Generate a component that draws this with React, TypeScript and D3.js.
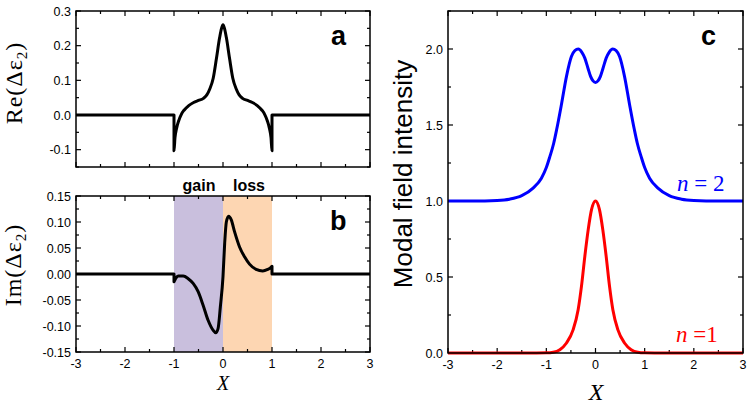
import React from "react";
import * as d3 from "d3";

// ---------- tick definitions ----------
const xMajor = [-3, -2, -1, 0, 1, 2, 3];
const xMinor = [-2.5, -1.5, -0.5, 0.5, 1.5, 2.5];
const xLabels = ["-3", "-2", "-1", "0", "1", "2", "3"];

const aYMajor = [-0.1, 0, 0.1, 0.2, 0.3];
const aYLabels = ["-0.1", "0.0", "0.1", "0.2", "0.3"];
const aYMinor = [-0.15, -0.05, 0.05, 0.15, 0.25];

const bYMajor = [-0.15, -0.1, -0.05, 0, 0.05, 0.1, 0.15];
const bYLabels = ["-0.15", "-0.10", "-0.05", "0.00", "0.05", "0.10", "0.15"];
const bYMinor = [-0.125, -0.075, -0.025, 0.025, 0.075, 0.125];

const cYMajor = [0, 0.5, 1, 1.5, 2];
const cYLabels = ["0.0", "0.5", "1.0", "1.5", "2.0"];
const cYMinor = [0.25, 0.75, 1.25, 1.75, 2.25];

// ---------- data ----------
// Panel a: Re(Δε2)
const reX = [-3, -1, -1, -0.98, -0.95, -0.9, -0.85, -0.8, -0.7, -0.6, -0.5, -0.4, -0.33, -0.27, -0.2, -0.135, -0.068, -0.03, 0,
  0.03, 0.068, 0.135, 0.2, 0.27, 0.33, 0.4, 0.5, 0.6, 0.7, 0.8, 0.85, 0.9, 0.95, 0.98, 1, 1, 3];
const reY = [0, 0, -0.103, -0.065, -0.04, -0.015, 0.002, 0.013, 0.027, 0.036, 0.042, 0.048, 0.058, 0.075, 0.106, 0.162, 0.224, 0.25, 0.26,
  0.25, 0.224, 0.162, 0.106, 0.075, 0.058, 0.048, 0.042, 0.036, 0.027, 0.013, 0.002, -0.015, -0.04, -0.065, -0.103, 0, 0];

// Panel b: Im(Δε2)
const imX = [-3, -1, -1, -0.97, -0.947, -0.913, -0.811, -0.71, -0.609, -0.507, -0.406, -0.304, -0.203, -0.149, -0.101, -0.054, 0,
  0.034, 0.068, 0.115, 0.169, 0.237, 0.338, 0.44, 0.541, 0.676, 0.811, 0.913, 0.97, 1, 1, 3];
const imY = [0, 0, -0.015, -0.009, -0.006, -0.004, -0.004, -0.009, -0.018, -0.034, -0.06, -0.089, -0.108, -0.113, -0.105, -0.063, -0.005,
  0.059, 0.1, 0.111, 0.104, 0.081, 0.052, 0.033, 0.019, 0.009, 0.006, 0.009, 0.012, 0.015, 0, 0];

// Panel c: modal field intensity
const n2X = [-3, -2.5, -2, -1.75, -1.5, -1.27, -1.1, -1.0, -0.93, -0.85, -0.79, -0.69, -0.59, -0.49, -0.42, -0.35, -0.28, -0.217, -0.15, -0.1, -0.05, 0,
  0.05, 0.1, 0.15, 0.217, 0.28, 0.35, 0.42, 0.49, 0.59, 0.69, 0.79, 0.85, 0.93, 1.0, 1.1, 1.27, 1.5, 1.75, 2, 2.5, 3];
const n2Y = [1.0, 1.0, 1.004, 1.012, 1.035, 1.085, 1.15, 1.22, 1.29, 1.38, 1.47, 1.64, 1.82, 1.95, 1.99, 2.0, 1.98, 1.94, 1.87, 1.82, 1.79, 1.78,
  1.79, 1.82, 1.87, 1.94, 1.98, 2.0, 1.99, 1.95, 1.82, 1.64, 1.47, 1.38, 1.29, 1.22, 1.15, 1.085, 1.035, 1.012, 1.004, 1.0, 1.0];

const n1X = [-3, -1.2, -1.0, -0.86, -0.725, -0.59, -0.454, -0.353, -0.285, -0.217, -0.149, -0.081, 0,
  0.081, 0.149, 0.217, 0.285, 0.353, 0.454, 0.59, 0.725, 0.86, 1.0, 1.2, 3];
const n1Y = [0, 0, 0.001, 0.005, 0.022, 0.066, 0.154, 0.285, 0.44, 0.636, 0.81, 0.943, 1.0,
  0.943, 0.81, 0.636, 0.44, 0.285, 0.154, 0.066, 0.022, 0.005, 0.001, 0, 0];

const gainRange = [-1, 0];
const lossRange = [0, 1];

const SANS = "'Liberation Sans', Arial, sans-serif";
const SERIF = "'Liberation Serif', 'Times New Roman', serif";

type PanelProps = {
  id: string;
  left: number; right: number; top: number; bottom: number;
  yDomain: [number, number];
  yMajor: number[]; yLabels: string[]; yMinor: number[];
  showXLabels: boolean;
  render: (x: d3.ScaleLinear<number, number>, y: d3.ScaleLinear<number, number>) => React.ReactNode;
  under?: (x: d3.ScaleLinear<number, number>, y: d3.ScaleLinear<number, number>) => React.ReactNode;
};

function Panel(p: PanelProps) {
  const x = d3.scaleLinear().domain([-3, 3]).range([p.left, p.right]);
  const y = d3.scaleLinear().domain(p.yDomain).range([p.bottom, p.top]);
  const maj = 5, min = 3;
  const tickStyle = { stroke: "#000", strokeWidth: 1.2 };
  return (
    <g>
      <defs>
        <clipPath id={p.id}>
          <rect x={p.left} y={p.top - 2} width={p.right - p.left} height={p.bottom - p.top + 4} />
        </clipPath>
      </defs>
      {p.under && p.under(x, y)}
      {xMajor.map((v) => (
        <g key={"xM" + v}>
          <line x1={x(v)} x2={x(v)} y1={p.bottom} y2={p.bottom - maj} {...tickStyle} />
          <line x1={x(v)} x2={x(v)} y1={p.top} y2={p.top + maj} {...tickStyle} />
        </g>
      ))}
      {xMinor.map((v) => (
        <g key={"xm" + v}>
          <line x1={x(v)} x2={x(v)} y1={p.bottom} y2={p.bottom - min} {...tickStyle} />
          <line x1={x(v)} x2={x(v)} y1={p.top} y2={p.top + min} {...tickStyle} />
        </g>
      ))}
      {p.yMajor.map((v) => (
        <g key={"yM" + v}>
          <line x1={p.left} x2={p.left + maj} y1={y(v)} y2={y(v)} {...tickStyle} />
          <line x1={p.right} x2={p.right - maj} y1={y(v)} y2={y(v)} {...tickStyle} />
        </g>
      ))}
      {p.yMinor.map((v) => (
        <g key={"ym" + v}>
          <line x1={p.left} x2={p.left + min} y1={y(v)} y2={y(v)} {...tickStyle} />
          <line x1={p.right} x2={p.right - min} y1={y(v)} y2={y(v)} {...tickStyle} />
        </g>
      ))}
      {p.yMajor.map((v, i) => (
        <text key={"yl" + v} x={p.left - 5} y={y(v)} dy="0.36em" textAnchor="end"
          fontFamily={SANS} fontSize={12.5} fill="#000">{p.yLabels[i]}</text>
      ))}
      {p.showXLabels && xMajor.map((v, i) => (
        <text key={"xl" + v} x={x(v)} y={p.bottom + 16} textAnchor="middle"
          fontFamily={SANS} fontSize={12.5} fill="#000">{xLabels[i]}</text>
      ))}
      <g clipPath={`url(#${p.id})`}>{p.render(x, y)}</g>
      <rect x={p.left} y={p.top} width={p.right - p.left} height={p.bottom - p.top}
        fill="none" stroke="#000" strokeWidth={1.5} />
    </g>
  );
}

function curvePath(xs: number[], ys: number[], x: d3.ScaleLinear<number, number>, y: d3.ScaleLinear<number, number>) {
  const pts: [number, number][] = xs.map((v, i) => [v, ys[i]]);
  return d3.line<[number, number]>().x((d) => x(d[0])).y((d) => y(d[1])).curve(d3.curveMonotoneX)(pts) || "";
}

export default function App() {
  return (
    <div style={{ position: "absolute", left: 0, top: 0 }}>
      <svg width={750} height={405} style={{ display: "block", background: "#fff" }}>
        <rect x={0} y={0} width={750} height={405} fill="#fff" />
        {/* Panel a */}
        <Panel id="clipA" left={76} right={370} top={11} bottom={167}
          yDomain={[-0.15, 0.3]} yMajor={aYMajor} yLabels={aYLabels} yMinor={aYMinor}
          showXLabels={false}
          render={(x, y) => (
            <path d={curvePath(reX, reY, x, y)} fill="none" stroke="#000" strokeWidth={3}
              strokeLinejoin="round" strokeLinecap="round" />
          )} />
        <text x={331} y={45} fontFamily={SANS} fontWeight="bold" fontSize={27}>a</text>
        <text transform="translate(22,83) rotate(-90)" textAnchor="middle" fontFamily={SERIF} fontSize={24} letterSpacing={1}>
          Re(Δε<tspan fontSize={15} dy={5}>2</tspan><tspan dy={-5}>)</tspan>
        </text>

        {/* Panel b */}
        <Panel id="clipB" left={76} right={370} top={196} bottom={352}
          yDomain={[-0.15, 0.15]} yMajor={bYMajor} yLabels={bYLabels} yMinor={bYMinor}
          showXLabels={true}
          under={(x, y) => (
            <g>
              <rect x={x(gainRange[0])} y={y(0.15)} width={x(gainRange[1]) - x(gainRange[0])} height={y(-0.15) - y(0.15)} fill="#c9bfdd" />
              <rect x={x(lossRange[0])} y={y(0.15)} width={x(lossRange[1]) - x(lossRange[0])} height={y(-0.15) - y(0.15)} fill="#fdd6b2" />
            </g>
          )}
          render={(x, y) => (
            <path d={curvePath(imX, imY, x, y)} fill="none" stroke="#000" strokeWidth={3}
              strokeLinejoin="round" strokeLinecap="round" />
          )} />
        <text x={330} y={230} fontFamily={SANS} fontWeight="bold" fontSize={27}>b</text>
        <text x={199} y={191} textAnchor="middle" fontFamily={SANS} fontWeight="bold" fontSize={16}>gain</text>
        <text x={249} y={191} textAnchor="middle" fontFamily={SANS} fontWeight="bold" fontSize={16}>loss</text>
        <text transform="translate(21,265) rotate(-90)" textAnchor="middle" fontFamily={SERIF} fontSize={24} letterSpacing={1}>
          Im(Δε<tspan fontSize={15} dy={5}>2</tspan><tspan dy={-5}>)</tspan>
        </text>
        <text x={223} y={390} textAnchor="middle" fontFamily={SERIF} fontStyle="italic" fontSize={20}>X</text>

        {/* Panel c */}
        <Panel id="clipC" left={448} right={743} top={11} bottom={353}
          yDomain={[0, 2.25]} yMajor={cYMajor} yLabels={cYLabels} yMinor={cYMinor}
          showXLabels={true}
          render={(x, y) => (
            <g>
              <path d={curvePath(n2X, n2Y, x, y)} fill="none" stroke="#0000ff" strokeWidth={3}
                strokeLinejoin="round" strokeLinecap="round" />
              <path d={curvePath(n1X, n1Y, x, y)} fill="none" stroke="#ff0000" strokeWidth={3}
                strokeLinejoin="round" strokeLinecap="round" />
            </g>
          )} />
        <text x={701} y={45} fontFamily={SANS} fontWeight="bold" fontSize={27}>c</text>
        <text transform="translate(412,174) rotate(-90)" textAnchor="middle" fontFamily={SANS} fontSize={26}>
          Modal field intensity
        </text>
        <text x={596} y={400} textAnchor="middle" fontFamily={SERIF} fontStyle="italic" fontSize={24}>X</text>
        <text x={677} y={191} fontFamily={SERIF} fontSize={23} fill="#0000ff" xmlSpace="preserve">
          <tspan fontStyle="italic">n</tspan> = 2
        </text>
        <text x={676} y={342} fontFamily={SERIF} fontSize={23} fill="#ff0000" xmlSpace="preserve">
          <tspan fontStyle="italic">n</tspan> =1
        </text>
      </svg>
    </div>
  );
}
